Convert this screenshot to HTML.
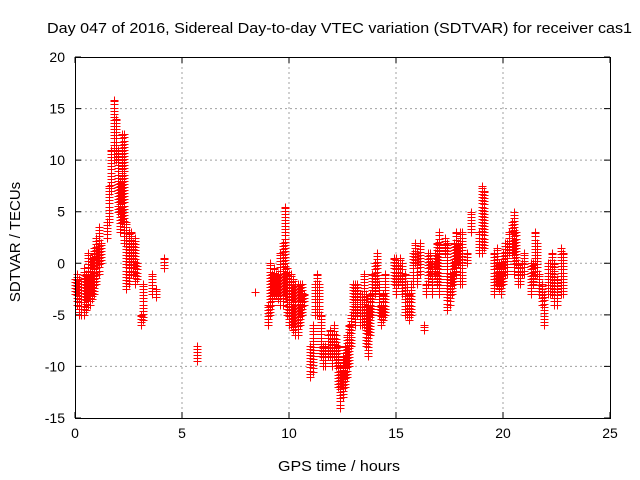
<!DOCTYPE html>
<html><head><meta charset="utf-8"><style>
body{margin:0;background:#fff;}
svg{display:block;font-family:"Liberation Sans",sans-serif;}
</style></head><body>
<svg id="chart" width="640" height="480"></svg>
<script>
const binTime=[0.0,0.1,0.2,0.3,0.4,0.5,0.6,0.7,0.8,0.9,1.0,1.1,1.2,1.5,1.6,1.7,1.8,1.9,2.0,2.1,2.2,2.3,2.4,2.5,2.6,2.7,2.8,2.9,3.1,3.2,3.6,3.8,4.15,5.7,
9.0,9.1,9.2,9.3,9.4,9.5,9.6,9.7,9.8,9.9,10.0,10.1,10.2,10.3,10.4,10.5,10.6,10.7,11.0,11.1,11.2,11.3,11.4,11.5,11.6,11.7,11.8,11.9,12.0,12.1,12.2,12.3,12.4,12.5,12.6,12.7,12.8,12.9,
13.0,13.1,13.2,13.3,13.4,13.5,13.6,13.7,13.8,13.9,14.0,14.1,14.2,14.3,14.4,14.5,14.9,15.0,15.1,15.2,15.3,15.4,15.5,15.6,15.7,15.8,15.9,16.0,16.1,16.3,16.4,16.5,16.6,16.7,16.8,16.9,17.0,
17.3,17.4,17.5,17.6,17.7,17.8,17.9,18.0,18.1,18.3,18.5,18.9,19.0,19.1,19.6,19.7,19.8,19.9,20.0,20.1,20.2,20.3,20.4,20.5,20.6,20.7,20.8,20.9,21.0,21.3,21.4,21.5,21.6,21.7,21.8,21.9,22.1,22.2,22.3,22.4,22.5,22.7,22.8];
const binLow=[-3,-4,-5,-5,-5,-4.5,-4,-4,-3.5,-3,-2,-1,0,2.5,4,7,10,10,5,3,4,2,-2.5,-2,-1,-1,-2,-1.5,-6,-5.5,-3,-3.3,-0.5,-9.5,
-6,-5,-4,-3,-3,-3.5,-4,-4,-3,-5,-6,-6,-6.5,-7,-7,-6,-5,-4,-11,-10.5,-5,-5,-5,-9,-10,-10,-9,-9,-10,-9,-10,-12,-14,-13,-12,-11,-10,-8,
-5,-6,-5,-6,-6,-6,-8,-9,-7,-5,-3,-2,-5,-6,-5.5,-5,-2,-3,-2,-1.5,-3,-5,-5,-5.5,-5,-2,0,-2,-1,-6.5,-3,-2,-1,-3,-1,-2,-3,
1,-4.5,-4,-3,-2,-1,0,-2,-2,0,3,1,1,1.5,-3,-2,-2.5,-3,-2,-1,-1,1,1,-1,0,-2,-2,-1,-1,-3,-2,-1,-1,-3,-4,-6,-3,-3,-3,-4,-4,-3,-3];
const binHigh=[-1.5,-1,-1.5,-2,-0.5,-1,1,0.5,0.5,1.5,2.5,3.5,2,4,7.5,11,15.8,14,11,8,12.5,12.5,4,3,3,2,2.5,0,-5,-2,-1,-2.5,0.5,-8,
-4,0,-1,-0.5,-1,-1,1,2,5.5,-0.5,-1,-1,-1.5,-2,-2,-2,-2,-3,-8,-6,-2,-1,-2,-5,-8,-8,-7,-6.5,-7,-6,-7,-8,-10,-9,-8,-7,-6,-5,
-2,-2,-2,-3,-3,-1,-3,-4,-3,-1,0,1,-2,-4,-3,-1,0.5,0.5,0,0.5,0,-1,-2,-3,-2,1,2,1,2,-6,-2,1,1,0,1,2,3,
2.5,2,-1,0,2,3,2,3,3,1,5,3,7.5,7,1,1.5,0,0,1,2,2,3,4,5,3,0,-0.5,0,1,0,0,3,2,-1,-2,-3,0,0,1,0,-1.5,1.5,1];
const extraTime=[8.4];
const extraValue=[-2.8];
const xTicks=[0,5,10,15,20,25];
const yTicks=[-15,-10,-5,0,5,10,15,20];

const NS="http://www.w3.org/2000/svg";
const svg=document.getElementById('chart');
const L=75,R=610,T=57,B=418;
const xs=t=>L+(t-0)/25*(R-L);
const ys=v=>B-(v+15)/35*(B-T);
function mk(tag,attrs,parent){const e=document.createElementNS(NS,tag);for(const k in attrs)e.setAttribute(k,attrs[k]);(parent||svg).appendChild(e);return e;}

const grid=mk('g',{});


xTicks.forEach(t=>{const x=xs(t);
 if(t>0&&t<25){const g=mk('line',{x1:x,x2:x,y1:T,y2:B,stroke:'#a0a0a0','stroke-dasharray':'2,3'},grid);}
 const tk=mk('path',{d:`M${x} ${B}v-6M${x} ${T}v6`,stroke:'#000'});
 
 const lb=mk('text',{x:x,y:B+20,'text-anchor':'middle','font-size':14});lb.textContent=t;
 
});
yTicks.forEach(v=>{const y=ys(v);
 if(v>-15&&v<20){const g=mk('line',{x1:L,x2:R,y1:y,y2:y,stroke:'#a0a0a0','stroke-dasharray':'2,3'},grid);}
 const tk=mk('path',{d:`M${L} ${y}h6M${R} ${y}h-6`,stroke:'#000'});
 
 const lb=mk('text',{x:L-10,y:y+5,'text-anchor':'end','font-size':14});lb.textContent=v;
 
});

const pts=mk('g',{stroke:'#ff0000','stroke-width':1,fill:'none'});


function plus(t,v){const x=Math.round(xs(t))+0.5,y=Math.round(ys(v))+0.5;
 const p=mk('path',{d:`M${x-4} ${y}h8M${x} ${y-4}v8`},pts);
 
 }
binTime.forEach((t,i)=>{const lo=binLow[i],hi=binHigh[i];
 for(let v=lo;v<=hi+1e-6;v+=0.3){plus(t,v);}
 plus(t,hi);
});
extraTime.forEach((t,i)=>plus(t,extraValue[i]));

const fr=mk('rect',{x:L+0.5,y:T+0.5,width:R-L,height:B-T,fill:'none',stroke:'#000'});

const ti=mk('text',{x:47,y:33,'font-size':15,textLength:585,lengthAdjust:'spacingAndGlyphs'});
ti.textContent='Day 047 of 2016, Sidereal Day-to-day VTEC variation (SDTVAR) for receiver cas1';

const xl=mk('text',{x:278,y:471,'font-size':15,textLength:122,lengthAdjust:'spacingAndGlyphs'});
xl.textContent='GPS time / hours';

const yl=mk('text',{x:0,y:0,'text-anchor':'middle','font-size':15,transform:'translate(20,242) rotate(-90)'});
yl.textContent='SDTVAR / TECUs';

</script>
</body></html>
